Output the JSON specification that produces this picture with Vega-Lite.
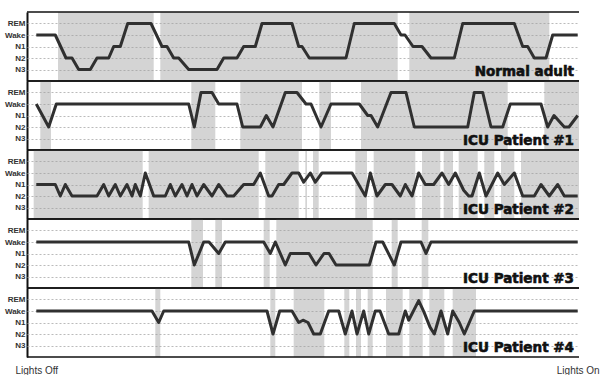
{
  "$schema": "https://vega.github.io/schema/vega-lite/v6.json",
  "padding": {"top": 11, "left": 4, "right": 0, "bottom": 0},
  "background": "white",
  "bounds": "flush",
  "config": {
    "view": {"stroke": null},
    "axisY": {"labelOverlap": false, "labelFlush": false, "labelBound": false, "tickCount": 5,
      "grid": true, "gridDash": [2, 2], "gridColor": "#aaaaaa", "gridWidth": 0.8,
      "domain": true, "domainColor": "#111", "domainWidth": 2, "ticks": false,
      "labelFont": "Liberation Sans", "labelFontWeight": "bold", "labelFontSize": 8,
      "labelColor": "#333", "labelPadding": 2, "title": null}
  },
  "data": {"values": [
    {"p":"Normal adult","k":"T"},
    {"p":"Normal adult","k":"S","t":31,"t2":126.7},
    {"p":"Normal adult","k":"S","t":133.3,"t2":370.7},
    {"p":"Normal adult","k":"S","t":382.3,"t2":522.3},
    {"p":"Normal adult","k":"L","t":9.3,"s":3},
    {"p":"Normal adult","k":"L","t":28.3,"s":3},
    {"p":"Normal adult","k":"L","t":39,"s":1},
    {"p":"Normal adult","k":"L","t":45,"s":1},
    {"p":"Normal adult","k":"L","t":51.7,"s":0},
    {"p":"Normal adult","k":"L","t":63.3,"s":0},
    {"p":"Normal adult","k":"L","t":70,"s":1},
    {"p":"Normal adult","k":"L","t":81.7,"s":1},
    {"p":"Normal adult","k":"L","t":86.7,"s":2},
    {"p":"Normal adult","k":"L","t":93.3,"s":2},
    {"p":"Normal adult","k":"L","t":100.7,"s":4},
    {"p":"Normal adult","k":"L","t":124,"s":4},
    {"p":"Normal adult","k":"L","t":135,"s":2},
    {"p":"Normal adult","k":"L","t":140,"s":2},
    {"p":"Normal adult","k":"L","t":146.7,"s":1},
    {"p":"Normal adult","k":"L","t":151.7,"s":1},
    {"p":"Normal adult","k":"L","t":161.7,"s":0},
    {"p":"Normal adult","k":"L","t":190,"s":0},
    {"p":"Normal adult","k":"L","t":196.7,"s":1},
    {"p":"Normal adult","k":"L","t":210,"s":1},
    {"p":"Normal adult","k":"L","t":216.7,"s":2},
    {"p":"Normal adult","k":"L","t":228.3,"s":2},
    {"p":"Normal adult","k":"L","t":235,"s":4},
    {"p":"Normal adult","k":"L","t":265,"s":4},
    {"p":"Normal adult","k":"L","t":271.7,"s":2},
    {"p":"Normal adult","k":"L","t":275,"s":2},
    {"p":"Normal adult","k":"L","t":282.3,"s":1},
    {"p":"Normal adult","k":"L","t":319,"s":1},
    {"p":"Normal adult","k":"L","t":327.3,"s":4},
    {"p":"Normal adult","k":"L","t":367.3,"s":4},
    {"p":"Normal adult","k":"L","t":374,"s":3},
    {"p":"Normal adult","k":"L","t":378,"s":3},
    {"p":"Normal adult","k":"L","t":386,"s":2},
    {"p":"Normal adult","k":"L","t":395,"s":2},
    {"p":"Normal adult","k":"L","t":404,"s":1},
    {"p":"Normal adult","k":"L","t":427.3,"s":1},
    {"p":"Normal adult","k":"L","t":435.7,"s":4},
    {"p":"Normal adult","k":"L","t":487.3,"s":4},
    {"p":"Normal adult","k":"L","t":495.7,"s":2},
    {"p":"Normal adult","k":"L","t":500.7,"s":2},
    {"p":"Normal adult","k":"L","t":507.3,"s":1},
    {"p":"Normal adult","k":"L","t":519,"s":1},
    {"p":"Normal adult","k":"L","t":525.7,"s":3},
    {"p":"Normal adult","k":"L","t":550.7,"s":3},

    {"p":"ICU Patient #1","k":"T"},
    {"p":"ICU Patient #1","k":"S","t":13.3,"t2":24},
    {"p":"ICU Patient #1","k":"S","t":164.3,"t2":188.3},
    {"p":"ICU Patient #1","k":"S","t":213.3,"t2":275},
    {"p":"ICU Patient #1","k":"S","t":292.3,"t2":304},
    {"p":"ICU Patient #1","k":"S","t":334,"t2":480.7},
    {"p":"ICU Patient #1","k":"S","t":517.3,"t2":552},
    {"p":"ICU Patient #1","k":"L","t":9.3,"s":3},
    {"p":"ICU Patient #1","k":"L","t":21.7,"s":1},
    {"p":"ICU Patient #1","k":"L","t":29.3,"s":3},
    {"p":"ICU Patient #1","k":"L","t":161.7,"s":3},
    {"p":"ICU Patient #1","k":"L","t":167.3,"s":1},
    {"p":"ICU Patient #1","k":"L","t":174,"s":4},
    {"p":"ICU Patient #1","k":"L","t":185,"s":4},
    {"p":"ICU Patient #1","k":"L","t":191.7,"s":3},
    {"p":"ICU Patient #1","k":"L","t":210,"s":3},
    {"p":"ICU Patient #1","k":"L","t":215.7,"s":1},
    {"p":"ICU Patient #1","k":"L","t":233.3,"s":1},
    {"p":"ICU Patient #1","k":"L","t":239.3,"s":2},
    {"p":"ICU Patient #1","k":"L","t":246,"s":1},
    {"p":"ICU Patient #1","k":"L","t":258.3,"s":4},
    {"p":"ICU Patient #1","k":"L","t":270,"s":4},
    {"p":"ICU Patient #1","k":"L","t":279,"s":3},
    {"p":"ICU Patient #1","k":"L","t":284,"s":3},
    {"p":"ICU Patient #1","k":"L","t":294,"s":1},
    {"p":"ICU Patient #1","k":"L","t":304,"s":3},
    {"p":"ICU Patient #1","k":"L","t":332.3,"s":3},
    {"p":"ICU Patient #1","k":"L","t":340.7,"s":2},
    {"p":"ICU Patient #1","k":"L","t":344,"s":2},
    {"p":"ICU Patient #1","k":"L","t":350.7,"s":1},
    {"p":"ICU Patient #1","k":"L","t":364,"s":4},
    {"p":"ICU Patient #1","k":"L","t":379,"s":4},
    {"p":"ICU Patient #1","k":"L","t":387.3,"s":1},
    {"p":"ICU Patient #1","k":"L","t":440.7,"s":1},
    {"p":"ICU Patient #1","k":"L","t":447.3,"s":4},
    {"p":"ICU Patient #1","k":"L","t":455.7,"s":4},
    {"p":"ICU Patient #1","k":"L","t":464,"s":1},
    {"p":"ICU Patient #1","k":"L","t":475.7,"s":1},
    {"p":"ICU Patient #1","k":"L","t":483.3,"s":3},
    {"p":"ICU Patient #1","k":"L","t":514,"s":3},
    {"p":"ICU Patient #1","k":"L","t":520.7,"s":1},
    {"p":"ICU Patient #1","k":"L","t":527,"s":2},
    {"p":"ICU Patient #1","k":"L","t":537.3,"s":1},
    {"p":"ICU Patient #1","k":"L","t":542,"s":1},
    {"p":"ICU Patient #1","k":"L","t":550.7,"s":2},

    {"p":"ICU Patient #2","k":"T"},
    {"p":"ICU Patient #2","k":"S","t":6.7,"t2":115.7},
    {"p":"ICU Patient #2","k":"S","t":121.7,"t2":231.7},
    {"p":"ICU Patient #2","k":"S","t":238.3,"t2":271.7},
    {"p":"ICU Patient #2","k":"S","t":278.3,"t2":280},
    {"p":"ICU Patient #2","k":"S","t":286,"t2":291.7},
    {"p":"ICU Patient #2","k":"S","t":328.3,"t2":340},
    {"p":"ICU Patient #2","k":"S","t":346.7,"t2":388.3},
    {"p":"ICU Patient #2","k":"S","t":395,"t2":413.3},
    {"p":"ICU Patient #2","k":"S","t":416.7,"t2":426},
    {"p":"ICU Patient #2","k":"S","t":431.7,"t2":450.7},
    {"p":"ICU Patient #2","k":"S","t":457.3,"t2":467.3},
    {"p":"ICU Patient #2","k":"S","t":474,"t2":487.3},
    {"p":"ICU Patient #2","k":"S","t":494,"t2":552},
    {"p":"ICU Patient #2","k":"L","t":9.3,"s":2},
    {"p":"ICU Patient #2","k":"L","t":28.3,"s":2},
    {"p":"ICU Patient #2","k":"L","t":33.3,"s":1},
    {"p":"ICU Patient #2","k":"L","t":38.3,"s":2},
    {"p":"ICU Patient #2","k":"L","t":45,"s":1},
    {"p":"ICU Patient #2","k":"L","t":70,"s":1},
    {"p":"ICU Patient #2","k":"L","t":76.7,"s":2},
    {"p":"ICU Patient #2","k":"L","t":81.7,"s":1},
    {"p":"ICU Patient #2","k":"L","t":88.3,"s":2},
    {"p":"ICU Patient #2","k":"L","t":93.3,"s":1},
    {"p":"ICU Patient #2","k":"L","t":100,"s":2},
    {"p":"ICU Patient #2","k":"L","t":105,"s":1},
    {"p":"ICU Patient #2","k":"L","t":108.3,"s":2},
    {"p":"ICU Patient #2","k":"L","t":113.3,"s":1},
    {"p":"ICU Patient #2","k":"L","t":118.3,"s":3},
    {"p":"ICU Patient #2","k":"L","t":126.7,"s":1},
    {"p":"ICU Patient #2","k":"L","t":138.3,"s":1},
    {"p":"ICU Patient #2","k":"L","t":143.3,"s":2},
    {"p":"ICU Patient #2","k":"L","t":148.3,"s":1},
    {"p":"ICU Patient #2","k":"L","t":155,"s":2},
    {"p":"ICU Patient #2","k":"L","t":160,"s":1},
    {"p":"ICU Patient #2","k":"L","t":165,"s":2},
    {"p":"ICU Patient #2","k":"L","t":170,"s":1},
    {"p":"ICU Patient #2","k":"L","t":176.7,"s":2},
    {"p":"ICU Patient #2","k":"L","t":185,"s":1},
    {"p":"ICU Patient #2","k":"L","t":191.7,"s":2},
    {"p":"ICU Patient #2","k":"L","t":200,"s":1},
    {"p":"ICU Patient #2","k":"L","t":206.7,"s":1},
    {"p":"ICU Patient #2","k":"L","t":216.7,"s":2},
    {"p":"ICU Patient #2","k":"L","t":226.7,"s":2},
    {"p":"ICU Patient #2","k":"L","t":233.3,"s":3},
    {"p":"ICU Patient #2","k":"L","t":241.7,"s":1},
    {"p":"ICU Patient #2","k":"L","t":245,"s":1},
    {"p":"ICU Patient #2","k":"L","t":251.7,"s":2},
    {"p":"ICU Patient #2","k":"L","t":256.7,"s":2},
    {"p":"ICU Patient #2","k":"L","t":265,"s":3},
    {"p":"ICU Patient #2","k":"L","t":271.7,"s":3},
    {"p":"ICU Patient #2","k":"L","t":276.7,"s":2.2},
    {"p":"ICU Patient #2","k":"L","t":283.3,"s":3},
    {"p":"ICU Patient #2","k":"L","t":288.3,"s":2.2},
    {"p":"ICU Patient #2","k":"L","t":295,"s":3},
    {"p":"ICU Patient #2","k":"L","t":325,"s":3},
    {"p":"ICU Patient #2","k":"L","t":338.3,"s":1},
    {"p":"ICU Patient #2","k":"L","t":343.3,"s":3},
    {"p":"ICU Patient #2","k":"L","t":350,"s":1},
    {"p":"ICU Patient #2","k":"L","t":358.3,"s":2},
    {"p":"ICU Patient #2","k":"L","t":365,"s":2},
    {"p":"ICU Patient #2","k":"L","t":373.3,"s":1},
    {"p":"ICU Patient #2","k":"L","t":378.3,"s":2},
    {"p":"ICU Patient #2","k":"L","t":385,"s":1},
    {"p":"ICU Patient #2","k":"L","t":391.7,"s":3},
    {"p":"ICU Patient #2","k":"L","t":398.3,"s":2},
    {"p":"ICU Patient #2","k":"L","t":406.7,"s":2},
    {"p":"ICU Patient #2","k":"L","t":415,"s":3},
    {"p":"ICU Patient #2","k":"L","t":421.7,"s":2},
    {"p":"ICU Patient #2","k":"L","t":428.3,"s":3},
    {"p":"ICU Patient #2","k":"L","t":436.7,"s":1.5},
    {"p":"ICU Patient #2","k":"L","t":441.7,"s":1},
    {"p":"ICU Patient #2","k":"L","t":445,"s":1},
    {"p":"ICU Patient #2","k":"L","t":452.3,"s":3},
    {"p":"ICU Patient #2","k":"L","t":459,"s":1},
    {"p":"ICU Patient #2","k":"L","t":470.7,"s":3},
    {"p":"ICU Patient #2","k":"L","t":477.3,"s":2},
    {"p":"ICU Patient #2","k":"L","t":487.3,"s":3},
    {"p":"ICU Patient #2","k":"L","t":495.7,"s":1},
    {"p":"ICU Patient #2","k":"L","t":507.3,"s":1},
    {"p":"ICU Patient #2","k":"L","t":514,"s":2},
    {"p":"ICU Patient #2","k":"L","t":522.3,"s":1},
    {"p":"ICU Patient #2","k":"L","t":530.7,"s":2},
    {"p":"ICU Patient #2","k":"L","t":537.3,"s":1},
    {"p":"ICU Patient #2","k":"L","t":550.7,"s":1},

    {"p":"ICU Patient #3","k":"T"},
    {"p":"ICU Patient #3","k":"S","t":164.3,"t2":176},
    {"p":"ICU Patient #3","k":"S","t":188.3,"t2":195},
    {"p":"ICU Patient #3","k":"S","t":236.7,"t2":242.7},
    {"p":"ICU Patient #3","k":"S","t":249.3,"t2":345.7},
    {"p":"ICU Patient #3","k":"S","t":364.7,"t2":370.7},
    {"p":"ICU Patient #3","k":"S","t":394.7,"t2":401.3},
    {"p":"ICU Patient #3","k":"L","t":9.3,"s":3},
    {"p":"ICU Patient #3","k":"L","t":161.7,"s":3},
    {"p":"ICU Patient #3","k":"L","t":167.3,"s":1},
    {"p":"ICU Patient #3","k":"L","t":176.7,"s":3},
    {"p":"ICU Patient #3","k":"L","t":182,"s":3},
    {"p":"ICU Patient #3","k":"L","t":191.7,"s":2},
    {"p":"ICU Patient #3","k":"L","t":198.3,"s":3},
    {"p":"ICU Patient #3","k":"L","t":236.7,"s":3},
    {"p":"ICU Patient #3","k":"L","t":243.3,"s":2},
    {"p":"ICU Patient #3","k":"L","t":248.3,"s":3},
    {"p":"ICU Patient #3","k":"L","t":258.3,"s":1},
    {"p":"ICU Patient #3","k":"L","t":263.3,"s":2},
    {"p":"ICU Patient #3","k":"L","t":282,"s":2},
    {"p":"ICU Patient #3","k":"L","t":289,"s":1},
    {"p":"ICU Patient #3","k":"L","t":297,"s":2},
    {"p":"ICU Patient #3","k":"L","t":302,"s":2},
    {"p":"ICU Patient #3","k":"L","t":309,"s":1},
    {"p":"ICU Patient #3","k":"L","t":342.3,"s":1},
    {"p":"ICU Patient #3","k":"L","t":349,"s":3},
    {"p":"ICU Patient #3","k":"L","t":355.7,"s":3},
    {"p":"ICU Patient #3","k":"L","t":367.3,"s":1},
    {"p":"ICU Patient #3","k":"L","t":374,"s":3},
    {"p":"ICU Patient #3","k":"L","t":394,"s":3},
    {"p":"ICU Patient #3","k":"L","t":399,"s":2},
    {"p":"ICU Patient #3","k":"L","t":404,"s":3},
    {"p":"ICU Patient #3","k":"L","t":550.7,"s":3},

    {"p":"ICU Patient #4","k":"T"},
    {"p":"ICU Patient #4","k":"S","t":128.3,"t2":133.3},
    {"p":"ICU Patient #4","k":"S","t":243.3,"t2":248.3},
    {"p":"ICU Patient #4","k":"S","t":266.7,"t2":297.3},
    {"p":"ICU Patient #4","k":"S","t":317.3,"t2":322.3},
    {"p":"ICU Patient #4","k":"S","t":329,"t2":334},
    {"p":"ICU Patient #4","k":"S","t":340.7,"t2":345.7},
    {"p":"ICU Patient #4","k":"S","t":359,"t2":375.7},
    {"p":"ICU Patient #4","k":"S","t":382.3,"t2":395.7},
    {"p":"ICU Patient #4","k":"S","t":402.3,"t2":417.3},
    {"p":"ICU Patient #4","k":"S","t":425.7,"t2":449},
    {"p":"ICU Patient #4","k":"L","t":9.3,"s":3},
    {"p":"ICU Patient #4","k":"L","t":125,"s":3},
    {"p":"ICU Patient #4","k":"L","t":131.7,"s":2},
    {"p":"ICU Patient #4","k":"L","t":136.7,"s":3},
    {"p":"ICU Patient #4","k":"L","t":240,"s":3},
    {"p":"ICU Patient #4","k":"L","t":246,"s":1},
    {"p":"ICU Patient #4","k":"L","t":252.7,"s":3},
    {"p":"ICU Patient #4","k":"L","t":265,"s":3},
    {"p":"ICU Patient #4","k":"L","t":271.7,"s":2},
    {"p":"ICU Patient #4","k":"L","t":276,"s":2.2},
    {"p":"ICU Patient #4","k":"L","t":281,"s":2},
    {"p":"ICU Patient #4","k":"L","t":286.7,"s":1},
    {"p":"ICU Patient #4","k":"L","t":293.3,"s":1},
    {"p":"ICU Patient #4","k":"L","t":301.7,"s":3},
    {"p":"ICU Patient #4","k":"L","t":311.7,"s":3},
    {"p":"ICU Patient #4","k":"L","t":318.3,"s":1},
    {"p":"ICU Patient #4","k":"L","t":325,"s":3},
    {"p":"ICU Patient #4","k":"L","t":330,"s":1},
    {"p":"ICU Patient #4","k":"L","t":336.7,"s":3},
    {"p":"ICU Patient #4","k":"L","t":341.7,"s":1},
    {"p":"ICU Patient #4","k":"L","t":348.3,"s":3},
    {"p":"ICU Patient #4","k":"L","t":353,"s":3},
    {"p":"ICU Patient #4","k":"L","t":361.7,"s":1},
    {"p":"ICU Patient #4","k":"L","t":371.7,"s":1},
    {"p":"ICU Patient #4","k":"L","t":378.3,"s":3},
    {"p":"ICU Patient #4","k":"L","t":381.7,"s":2.2},
    {"p":"ICU Patient #4","k":"L","t":391.7,"s":3.9},
    {"p":"ICU Patient #4","k":"L","t":397,"s":2.9},
    {"p":"ICU Patient #4","k":"L","t":403,"s":1.6},
    {"p":"ICU Patient #4","k":"L","t":407.3,"s":1},
    {"p":"ICU Patient #4","k":"L","t":414,"s":3},
    {"p":"ICU Patient #4","k":"L","t":420.7,"s":1},
    {"p":"ICU Patient #4","k":"L","t":425.7,"s":3},
    {"p":"ICU Patient #4","k":"L","t":432.3,"s":2},
    {"p":"ICU Patient #4","k":"L","t":437.3,"s":1},
    {"p":"ICU Patient #4","k":"L","t":447.3,"s":3},
    {"p":"ICU Patient #4","k":"L","t":550.7,"s":3}
  ]},
  "spacing": {"row": 0},
  "facet": {
    "row": {
      "field": "p",
      "type": "nominal",
      "sort": ["Normal adult","ICU Patient #1","ICU Patient #2","ICU Patient #3","ICU Patient #4"],
      "header": {"labels": false, "title": null}
    }
  },
  "spec": {
    "width": 552,
    "height": 69,
    "layer": [
      {
        "transform": [{"filter": "datum.k == 'S'"}],
        "mark": {"type": "rect", "color": "#a0a0a0", "opacity": 0.45},
        "encoding": {
          "x": {"field": "t", "type": "quantitative",
            "scale": {"domain": [0, 552], "nice": false, "zero": false},
            "axis": {"values": [9.3, 550.7], "labelExpr": "datum.value < 100 ? 'Lights Off' : 'Lights On'",
              "domain": false, "ticks": false, "grid": false, "labelFontSize": 10, "labelColor": "#333",
              "labelFont": "Liberation Sans", "labelPadding": 8, "labelFlush": false, "labelOverlap": false, "title": null}},
          "x2": {"field": "t2"}
        }
      },
      {
        "transform": [{"filter": "datum.k == 'L'"}],
        "mark": {"type": "line", "color": "#303030", "strokeWidth": 3, "strokeJoin": "round"},
        "encoding": {
          "x": {"field": "t", "type": "quantitative"},
          "y": {"field": "s", "type": "quantitative",
            "scale": {"domain": [-1, 5], "nice": false, "zero": false},
            "axis": {"values": [0, 1, 2, 3, 4],
              "labelExpr": "datum.value == 4 ? 'REM' : datum.value == 3 ? 'Wake' : datum.value == 2 ? 'N1' : datum.value == 1 ? 'N2' : 'N3'"}}
        }
      },
      {
        "transform": [{"filter": "datum.k == 'T'"}],
        "mark": {"type": "rule", "color": "#111", "strokeWidth": 1.5},
        "encoding": {"x": {"datum": 0}, "x2": {"datum": 552}, "y": {"datum": 5}}
      },
      {
        "transform": [{"filter": "datum.k == 'T'"}],
        "mark": {"type": "rule", "color": "#111", "strokeWidth": 1.5},
        "encoding": {"x": {"datum": 0}, "x2": {"datum": 552}, "y": {"datum": -1}}
      },
      {
        "transform": [{"filter": "datum.k == 'T'"}],
        "mark": {"type": "text", "align": "right", "baseline": "alphabetic", "font": "DejaVu Sans",
          "fontWeight": "bold", "fontSize": 13.5, "color": "#111", "stroke": "#111", "strokeWidth": 0.6},
        "encoding": {"x": {"datum": 547}, "y": {"datum": -0.57}, "text": {"field": "p"}}
      }
    ]
  }
}
